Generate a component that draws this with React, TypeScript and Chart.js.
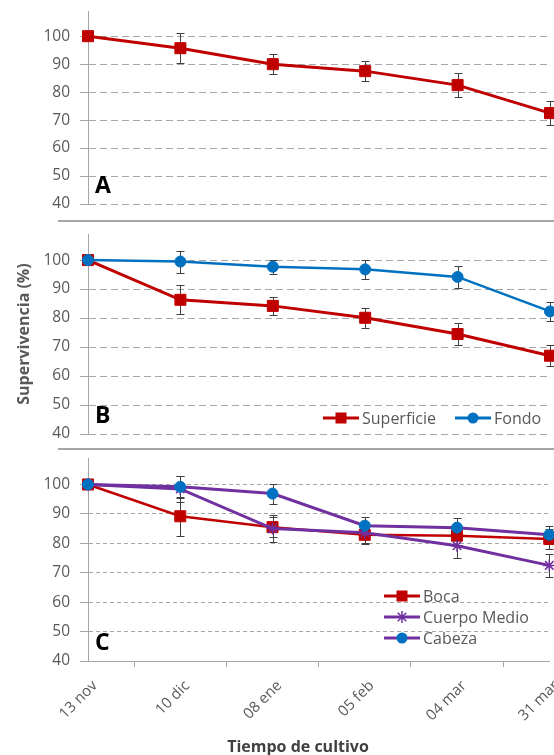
import React, { useEffect, useRef } from 'react';
import { Chart, registerables } from 'chart.js';

Chart.register(...registerables);

// ---------- data ----------
const timeLabels = ['13 nov', '10 dic', '08 ene', '05 feb', '04 mar', '31 mar'];
const yTickValues = [40, 50, 60, 70, 80, 90, 100];

const panelAValues = [100, 95.7, 90, 87.5, 82.5, 72.5];
const panelAErrors = [0, 5.3, 3.7, 3.7, 4.3, 4.3];

const superficieValues = [100, 86.3, 84.2, 80.1, 74.5, 67];
const superficieErrors = [0, 5, 3.2, 3.5, 3.7, 3.6];
const fondoValues = [100, 99.5, 97.7, 96.8, 94.2, 82.3];
const fondoErrors = [0, 3.8, 2.5, 3.3, 3.8, 3.3];

const bocaValues = [100, 89.2, 85.5, 82.9, 82.6, 81.5];
const bocaErrors = [0, 6.6, 3.5, 3.3, 3.5, 3.5];
const cuerpoValues = [100, 98.5, 85, 83.6, 79.2, 72.5];
const cuerpoErrors = [0, 4.5, 4.6, 3.5, 4.2, 4];
const cabezaValues = [100, 99.2, 96.9, 86, 85.3, 82.9];
const cabezaErrors = [0, 3.8, 3.4, 2.8, 3.2, 3];

// ---------- style ----------
const RED = '#c00000';
const BLUE = '#0070c0';
const PURPLE = '#7030a0';
const GRID = '#a6a6a6';
const TEXT = '#595959';
const FONT = '"Open Sans", "Noto Sans", sans-serif';

// ---------- plugins ----------
const errorBarPlugin = {
  id: 'errorBars',
  beforeDatasetsDraw(chart: any) {
    const ctx = chart.ctx;
    const yScale = chart.scales.y;
    chart.data.datasets.forEach((ds: any, i: number) => {
      const errs = ds.errors;
      if (!errs) return;
      const meta = chart.getDatasetMeta(i);
      ctx.save();
      ctx.strokeStyle = '#404040';
      ctx.lineWidth = 1;
      meta.data.forEach((pt: any, j: number) => {
        const e = errs[j];
        if (!e) return;
        const v = ds.data[j];
        const x = Math.round(pt.x) + 0.5;
        const top = Math.round(yScale.getPixelForValue(v + e)) + 0.5;
        const bot = Math.round(yScale.getPixelForValue(v - e)) + 0.5;
        ctx.beginPath();
        ctx.moveTo(x, top);
        ctx.lineTo(x, bot);
        ctx.moveTo(x - 4, top);
        ctx.lineTo(x + 4, top);
        ctx.moveTo(x - 4, bot);
        ctx.lineTo(x + 4, bot);
        ctx.stroke();
      });
      ctx.restore();
    });
  },
};

function drawMarker(ctx: CanvasRenderingContext2D, style: string, color: string, x: number, y: number) {
  ctx.save();
  ctx.fillStyle = color;
  ctx.strokeStyle = color;
  if (style === 'rect') {
    ctx.fillRect(x - 5.5, y - 5.5, 11, 11);
  } else if (style === 'circle') {
    ctx.beginPath();
    ctx.arc(x, y, 5.5, 0, Math.PI * 2);
    ctx.fill();
  } else if (style === 'star') {
    ctx.lineWidth = 1.5;
    ctx.beginPath();
    const r = 6;
    for (let k = 0; k < 4; k++) {
      const a = (k * Math.PI) / 4;
      ctx.moveTo(x - r * Math.cos(a), y - r * Math.sin(a));
      ctx.lineTo(x + r * Math.cos(a), y + r * Math.sin(a));
    }
    ctx.stroke();
  }
  ctx.restore();
}

const decoPlugin = {
  id: 'deco',
  afterDraw(chart: any, _args: any, opts: any) {
    const ctx = chart.ctx;
    const area = chart.chartArea;
    if (opts.letter) {
      ctx.save();
      ctx.font = `bold 23px ${FONT}`;
      ctx.fillStyle = '#000';
      ctx.textBaseline = 'alphabetic';
      ctx.textAlign = 'left';
      ctx.fillText(opts.letter, area.left + 7, area.bottom - 11);
      ctx.restore();
    }
    if (opts.xTitle) {
      ctx.save();
      ctx.font = `bold 16px ${FONT}`;
      ctx.fillStyle = '#404040';
      ctx.textBaseline = 'middle';
      ctx.textAlign = 'center';
      ctx.fillText(opts.xTitle.text, area.left + opts.xTitle.dx, area.bottom + opts.xTitle.dy);
      ctx.restore();
    }
    if (opts.legend) {
      const lg = opts.legend;
      ctx.save();
      ctx.font = `16px ${FONT}`;
      ctx.textBaseline = 'middle';
      ctx.textAlign = 'left';
      lg.items.forEach((it: any) => {
        const x0 = area.left + it.dx;
        const y0 = area.bottom - it.dy;
        ctx.strokeStyle = it.lineColor;
        ctx.lineWidth = 3;
        ctx.beginPath();
        ctx.moveTo(x0, y0);
        ctx.lineTo(x0 + 36, y0);
        ctx.stroke();
        drawMarker(ctx, it.pointStyle, it.pointColor, x0 + 18, y0);
        ctx.fillStyle = TEXT;
        ctx.fillText(it.label, x0 + 39, y0 + 1);
      });
      ctx.restore();
    }
  },
};

// ---------- options ----------
function buildOptions(cfg: any) {
  return {
    responsive: false,
    animation: false,
    events: [],
    layout: { padding: cfg.padding },
    plugins: {
      legend: { display: false },
      tooltip: { enabled: false },
      deco: { letter: cfg.letter, legend: cfg.legend, xTitle: cfg.xTitle },
    },
    scales: {
      x: cfg.showX
        ? {
            type: 'category',
            offset: false,
            afterFit: (s: any) => {
              s.height = cfg.xHeight;
            },
            grid: {
              offset: true,
              drawOnChartArea: false,
              drawTicks: true,
              tickLength: 6,
              color: GRID,
            },
            border: { display: true, color: GRID, width: 1 },
            ticks: {
              autoSkip: false,
              minRotation: 45,
              maxRotation: 45,
              color: TEXT,
              padding: 10,
              labelOffset: 7,
              font: { family: FONT, size: 15 },
            },
          }
        : {
            type: 'category',
            offset: false,
            afterFit: (s: any) => {
              s.height = cfg.xHeight;
            },
            grid: { display: false, drawTicks: false },
            border: { display: false },
            ticks: { display: false },
          },
      y: {
        min: 40,
        max: 109,
        afterBuildTicks: (s: any) => {
          s.ticks = yTickValues.map((v) => ({ value: v }));
        },
        afterFit: (s: any) => {
          s.width = 88;
          s.paddingTop = 0;
          s.paddingBottom = 0;
        },
        grid: {
          color: GRID,
          lineWidth: 1,
          drawTicks: true,
          tickLength: 8,
        },
        border: { display: true, color: GRID, width: 1, dash: cfg.dash },
        ticks: {
          color: TEXT,
          padding: 10,
          font: { family: FONT, size: 15.5 },
        },
        title: cfg.yTitle
          ? {
              display: true,
              text: cfg.yTitle,
              color: TEXT,
              font: { family: FONT, size: 16, weight: 'bold' },
              padding: { top: 15, bottom: 0 },
            }
          : { display: false },
      },
    },
  };
}

function lineDataset(label: string, data: number[], errors: number[], lineColor: string, pointColor: string, pointStyle: string, order: number) {
  const isRect = pointStyle === 'rect';
  const isStar = pointStyle === 'star';
  return {
    label,
    data,
    errors,
    order,
    borderColor: lineColor,
    backgroundColor: pointColor,
    borderWidth: 3,
    tension: 0,
    clip: false,
    pointStyle,
    pointRadius: isRect ? 7.8 : isStar ? 6 : 5.5,
    pointBackgroundColor: pointColor,
    pointBorderColor: pointColor,
    pointBorderWidth: isStar ? 1.5 : 1,
  };
}

function PanelChart({ top, height, config }: { top: number; height: number; config: any }) {
  const ref = useRef<HTMLCanvasElement | null>(null);
  useEffect(() => {
    if (!ref.current) return;
    const chart = new Chart(ref.current, {
      type: 'line',
      data: config.data,
      options: config.options,
      plugins: [errorBarPlugin, decoPlugin],
    } as any);
    return () => chart.destroy();
  }, []);
  return (
    <canvas
      ref={ref}
      width={572}
      height={height}
      style={{ position: 'absolute', left: 0, top, display: 'block' }}
    />
  );
}

const panelA = {
  data: {
    labels: timeLabels,
    datasets: [lineDataset('Superficie', panelAValues, panelAErrors, RED, RED, 'rect', 1)],
  },
  options: buildOptions({
    padding: { top: 11, bottom: 0, left: 0, right: 22 },
    showX: false,
    xHeight: 11,
    dash: [7, 4],
    letter: 'A',
  }),
};

const panelB = {
  data: {
    labels: timeLabels,
    datasets: [
      lineDataset('Superficie', superficieValues, superficieErrors, RED, RED, 'rect', 2),
      { ...lineDataset('Fondo', fondoValues, fondoErrors, BLUE, BLUE, 'circle', 1), borderWidth: 2.5 },
    ],
  },
  options: buildOptions({
    padding: { top: 10, bottom: 0, left: 0, right: 22 },
    showX: false,
    xHeight: 10,
    dash: [7, 4],
    letter: 'B',
    yTitle: 'Supervivencia (%)',
    legend: {
      items: [
        { label: 'Superficie', lineColor: RED, pointColor: RED, pointStyle: 'rect', dx: 235, dy: 16 },
        { label: 'Fondo', lineColor: BLUE, pointColor: BLUE, pointStyle: 'circle', dx: 367, dy: 16 },
      ],
    },
  }),
};

const panelC = {
  data: {
    labels: timeLabels,
    datasets: [
      { ...lineDataset('Boca', bocaValues, bocaErrors, RED, RED, 'rect', 3), borderWidth: 2.5 },
      lineDataset('Cuerpo Medio', cuerpoValues, cuerpoErrors, PURPLE, PURPLE, 'star', 2),
      lineDataset('Cabeza', cabezaValues, cabezaErrors, PURPLE, BLUE, 'circle', 1),
    ],
  },
  options: buildOptions({
    padding: { top: 18, bottom: 0, left: 0, right: 22 },
    showX: true,
    xHeight: 94,
    dash: [4, 3],
    letter: 'C',
    xTitle: { text: 'Tiempo de cultivo', dx: 210, dy: 86 },
    legend: {
      items: [
        { label: 'Boca', lineColor: RED, pointColor: RED, pointStyle: 'rect', dx: 296, dy: 65 },
        { label: 'Cuerpo Medio', lineColor: PURPLE, pointColor: PURPLE, pointStyle: 'star', dx: 296, dy: 44 },
        { label: 'Cabeza', lineColor: PURPLE, pointColor: BLUE, pointStyle: 'circle', dx: 296, dy: 23 },
      ],
    },
  }),
};

export default function App() {
  return (
    <div
      style={{
        position: 'absolute',
        left: 0,
        top: 0,
        width: 554,
        height: 755,
        overflow: 'hidden',
        background: '#fff',
      }}
    >
      <PanelChart top={0} height={215} config={panelA} />
      <div style={{ position: 'absolute', left: 58, top: 220, width: 520, height: 2, background: GRID }} />
      <PanelChart top={224} height={220} config={panelB} />
      <div style={{ position: 'absolute', left: 58, top: 448, width: 520, height: 2, background: GRID }} />
      <PanelChart top={440} height={315} config={panelC} />
    </div>
  );
}
